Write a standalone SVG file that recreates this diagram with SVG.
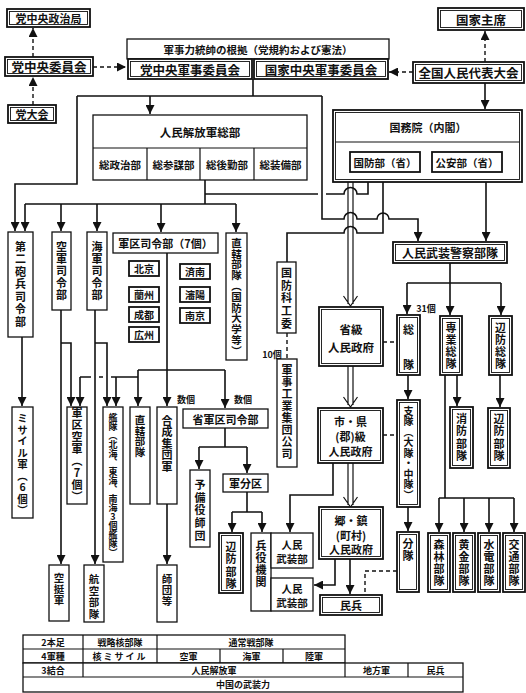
<svg xmlns="http://www.w3.org/2000/svg" width="526" height="693" viewBox="0 0 526 693">
<defs>
<style>
text{font-family:"Noto Sans CJK JP","Noto Sans CJK SC",sans-serif;font-weight:bold;fill:#111;text-anchor:middle;dominant-baseline:central;font-size:11px}
.v{writing-mode:vertical-rl;text-orientation:upright}
rect{fill:#fff;stroke:#111;stroke-width:1.3}
.o{stroke-width:1.8}
.i{stroke-width:0.9;fill:none}
.l{fill:none;stroke:#111;stroke-width:1.6}
.d{fill:none;stroke:#111;stroke-width:1.4;stroke-dasharray:4 3}
.h{fill:none;stroke:#111;stroke-width:1.2}
.a{marker-end:url(#ah)}
.sm{font-size:9px}
.tb{font-size:9px}
</style>
<marker id="ah" markerUnits="userSpaceOnUse" markerWidth="9" markerHeight="9" refX="9" refY="4.5" orient="auto"><path d="M0,0L9,4.5L0,9z" fill="#111"/></marker>
</defs>
<rect x="0" y="0" width="526" height="693" style="fill:#fff;stroke:none"/>

<g id="connectors">
<path class="d a" d="M33,105V77"/>
<path class="d a" d="M33,57V28"/>
<path class="d a" d="M93,67H126"/>
<path class="d a" d="M485,62V31"/>
<path class="d a" d="M413,72H389"/>
<path class="l a" d="M485,83V109"/>
<path class="l" d="M253,79V96M77,96H322"/>
<path class="l a" d="M150,96V114"/>
<path class="l a" d="M77,96V184H15V231"/>
<path class="l a" d="M322,96V219H344A6.5,6.5 0 0 1 357,219H377A6,6 0 0 1 389,219H418V241"/>
<path class="l" d="M205,180V204M25,204H236"/>
<path class="l a" d="M25,204V231"/>
<path class="l a" d="M61,204V231"/>
<path class="l a" d="M97,204V231"/>
<path class="l a" d="M161,204V232"/>
<path class="l a" d="M236,204V232"/>
<path class="l" d="M205,194H318M326,194H344A6.5,6.5 0 0 1 357,194H368V172"/>
<path class="l" d="M383,182V233H357A6.5,6.5 0 0 0 344,233H287V262"/>
<path class="h" d="M348,182V304M353,182V304M343.5,296L350.5,306L357.5,296"/>
<path class="h" d="M348,366V405M353,366V405M343.5,397L350.5,407L357.5,397"/>
<path class="h" d="M348,463V505M353,463V505M343.5,497L350.5,507L357.5,497"/>
<path class="l a" d="M486,182V241"/>
<path class="l" d="M450,263V283M407,283H501"/>
<path class="l a" d="M407,283V314"/>
<path class="l a" d="M450,283V315"/>
<path class="l a" d="M501,283V315"/>
<path class="d" d="M383,342H397M383,435H397"/>
<path class="l a" d="M408,375V399"/>
<path class="l a" d="M408,507V531"/>
<path class="l" d="M445,375V498M439,498H514"/>
<path class="l a" d="M439,498V532"/>
<path class="l a" d="M464,498V532"/>
<path class="l a" d="M489,498V532"/>
<path class="l a" d="M514,498V532"/>
<path class="l a" d="M457,375V406"/>
<path class="l a" d="M500,375V407"/>
<path class="l a" d="M333,463V495H290V532"/>
<path class="l a" d="M335,559V585H314"/>
<path class="l a" d="M350,559V594"/>
<path class="d" d="M397,571H365V595"/>
<path class="l a" d="M22,337V406"/>
<path class="l a" d="M61,310V564"/>
<path class="l a" d="M61,343H71V406"/>
<path class="l a" d="M95,310V564"/>
<path class="l a" d="M95,343H107V406"/>
<path class="l a" d="M167,253V406"/>
<path class="l" d="M138,370H225"/>
<path class="l a" d="M138,370V406"/>
<path class="l a" d="M225,370V408"/>
<path class="l" d="M138,377H111M103,377H99M91,377H80"/>
<path class="l a" d="M80,377V406"/>
<path class="l a" d="M116,377V406"/>
<path class="l a" d="M167,504V564"/>
<path class="l" d="M225,428V447M199,447H247"/>
<path class="l a" d="M199,447V469"/>
<path class="l a" d="M247,447V473"/>
<path class="l" d="M247,492V512M232,512H262"/>
<path class="l a" d="M232,512V532"/>
<path class="l a" d="M262,512V532"/>
<path class="d" d="M287,333V358"/>
</g>

<g id="n-politburo"><rect class="o" x="7" y="9" width="83" height="18"/><rect class="i" x="9.5" y="11.5" width="78" height="13"/><text x="48.5" y="18">党中央政治局</text></g>
<g id="n-cc"><rect class="o" x="5" y="57" width="88" height="19"/><rect class="i" x="7.5" y="59.5" width="83" height="14"/><text x="49" y="66.5" style="font-size:12.5px">党中央委員会</text></g>
<g id="n-congress"><rect class="o" x="8" y="105" width="48" height="18"/><rect class="i" x="10.5" y="107.5" width="43" height="13"/><text x="32" y="114">党大会</text></g>

<g id="n-basis"><rect x="127" y="39" width="262" height="20"/><text x="258" y="49" style="font-size:10.5px">軍事力統帥の根拠（党規約および憲法）</text></g>
<g id="n-cmc-party"><rect class="o" x="128" y="59" width="124" height="20"/><rect class="i" x="130.5" y="61.5" width="119" height="15"/><text x="190" y="69" style="font-size:12.5px">党中央軍事委員会</text></g>
<g id="n-cmc-state"><rect class="o" x="254" y="59" width="134" height="20"/><rect class="i" x="256.5" y="61.5" width="129" height="15"/><text x="321" y="69" style="font-size:12.5px">国家中央軍事委員会</text></g>

<g id="n-president"><rect class="o" x="438" y="8" width="86" height="22"/><rect class="i" x="440.5" y="10.5" width="81" height="17"/><text x="481" y="19" style="font-size:12.5px">国家主席</text></g>
<g id="n-npc"><rect class="o" x="413" y="62" width="111" height="21"/><rect class="i" x="415.5" y="64.5" width="106" height="16"/><text x="468.5" y="72.5" style="font-size:12.5px">全国人民代表大会</text></g>

<g id="n-pla-hq"><rect x="93" y="115" width="214" height="65"/><path class="h" d="M93,148H307M147,148V180M200,148V180M254,148V180"/><text x="200" y="132" style="font-size:11.5px">人民解放軍総部</text><text x="120" y="164" style="font-size:10.5px">総政治部</text><text x="173.5" y="164" style="font-size:10.5px">総参謀部</text><text x="227" y="164" style="font-size:10.5px">総後勤部</text><text x="280.5" y="164" style="font-size:10.5px">総装備部</text></g>

<g id="n-state-council"><rect class="o" x="333" y="110" width="189" height="72"/><rect class="i" x="335.5" y="112.5" width="184" height="67"/><path class="h" d="M335.5,142H519.5"/><text x="428" y="127">国務院（内閣）</text></g>
<g id="n-mnd"><rect class="o" x="350" y="152" width="70" height="20"/><text x="385" y="162" style="font-size:10.5px">国防部（省）</text></g>
<g id="n-mps"><rect class="o" x="432" y="152" width="70" height="20"/><text x="467" y="162" style="font-size:10.5px">公安部（省）</text></g>

<g id="n-2art"><rect x="8" y="232" width="25" height="105"/><text class="v" x="20.5" y="285" style="letter-spacing:1.5px">第二砲兵司令部</text></g>
<g id="n-af"><rect x="52" y="232" width="19" height="78"/><text class="v" x="61.5" y="271" style="letter-spacing:1px">空軍司令部</text></g>
<g id="n-navy"><rect x="87" y="232" width="20" height="78"/><text class="v" x="97" y="271" style="letter-spacing:1px">海軍司令部</text></g>
<g id="n-mr"><rect x="113" y="233" width="105" height="20"/><text x="165.5" y="243">軍区司令部（7個）</text>
<rect class="o" x="129" y="261" width="30" height="15"/><text x="144" y="268.5" style="font-size:10px">北京</text>
<rect class="o" x="129" y="287" width="30" height="15"/><text x="144" y="294.5" style="font-size:10px">蘭州</text>
<rect class="o" x="129" y="307" width="30" height="15"/><text x="144" y="314.5" style="font-size:10px">成都</text>
<rect class="o" x="129" y="327" width="30" height="15"/><text x="144" y="334.5" style="font-size:10px">広州</text>
<rect class="o" x="180" y="264" width="30" height="15"/><text x="195" y="271.5" style="font-size:10px">済南</text>
<rect class="o" x="180" y="287" width="30" height="15"/><text x="195" y="294.5" style="font-size:10px">瀋陽</text>
<rect class="o" x="180" y="308" width="30" height="15"/><text x="195" y="315.5" style="font-size:10px">南京</text></g>
<g id="n-direct1"><rect x="226" y="233" width="21" height="127"/><text class="v" x="236.5" y="297" style="font-size:10.5px;letter-spacing:0.3px">直轄部隊（国防大学等）</text></g>

<g id="n-missile"><rect x="12" y="407" width="21" height="111"/><text class="v" x="22.5" y="465" style="font-size:10.5px;letter-spacing:1px">ミサイル軍（6個）</text></g>
<g id="n-mraf"><rect x="67" y="407" width="20" height="97"/><text class="v" x="77" y="455" style="letter-spacing:1px">軍区空軍（7個）</text></g>
<g id="n-fleet"><rect x="103" y="407" width="20" height="155"/><text class="v" x="113" y="485" style="font-size:9px">艦隊（北海、東海、南海3個艦隊）</text></g>
<g id="n-direct2"><rect x="130" y="407" width="20" height="97"/><text class="v" x="140" y="436" style="font-size:10.5px">直轄部隊</text></g>
<g id="n-group-army"><rect x="157" y="407" width="20" height="97"/><text class="v" x="167" y="444" style="letter-spacing:0.6px">合成集団軍</text></g>
<g id="n-pmd"><rect x="183" y="409" width="85" height="19"/><text x="225.5" y="418.5">省軍区司令部</text></g>
<text class="sm" x="186" y="399">数個</text>
<text class="sm" x="243" y="399">数個</text>
<g id="n-reserve"><rect x="190" y="470" width="20" height="77"/><text class="v" x="200" y="511" style="letter-spacing:1.6px">予備役師団</text></g>
<g id="n-msd"><rect x="223" y="474" width="45" height="18"/><text x="245.5" y="483">軍分区</text></g>
<g id="n-border1"><rect class="o" x="219" y="533" width="24" height="60"/><rect class="i" x="221.5" y="535.5" width="19" height="55"/><text class="v" x="231" y="566" style="letter-spacing:1.5px">辺防部隊</text></g>
<g id="n-conscript"><rect x="251" y="533" width="20" height="78"/><text class="v" x="261" y="564" style="letter-spacing:1px">兵役機関</text></g>
<g id="n-armdep1"><rect x="271" y="533" width="42" height="35"/><text x="292" y="544" style="font-size:10.5px">人民</text><text x="292" y="558" style="font-size:10.5px">武装部</text></g>
<g id="n-armdep2"><rect x="271" y="578" width="42" height="33"/><text x="292" y="588" style="font-size:10.5px">人民</text><text x="292" y="602" style="font-size:10.5px">武装部</text></g>
<g id="n-airborne"><rect x="49" y="565" width="20" height="56"/><text class="v" x="59" y="589" style="font-size:10.5px;letter-spacing:0.5px">空挺軍</text></g>
<g id="n-navair"><rect x="84" y="565" width="20" height="57"/><text class="v" x="94" y="597" style="font-size:10.5px;letter-spacing:1.2px">航空部隊</text></g>
<g id="n-division"><rect x="157" y="565" width="20" height="57"/><text class="v" x="167" y="590" style="font-size:10.5px;letter-spacing:0.5px">師団等</text></g>

<g id="n-costind"><rect x="277" y="262" width="19" height="71"/><text class="v" x="286.5" y="299" style="letter-spacing:1.6px">国防科工委</text></g>
<text class="sm" x="272" y="354">10個</text>
<g id="n-defind"><rect x="277" y="359" width="20" height="108"/><text class="v" x="287" y="412" style="letter-spacing:1px">軍事工業集団公司</text></g>

<g id="n-pap"><rect class="o" x="393" y="242" width="114" height="21"/><rect class="i" x="395.5" y="244.5" width="109" height="16"/><text x="450" y="252.5" style="font-size:12px">人民武装警察部隊</text></g>
<text class="sm" x="426" y="308">31個</text>
<g id="n-corps"><rect class="o" x="397" y="315" width="23" height="60"/><rect class="i" x="399.5" y="317.5" width="18" height="55"/><text class="v" x="408.5" y="324" style="text-anchor:start;letter-spacing:24px">総隊</text></g>
<g id="n-special"><rect class="o" x="440" y="316" width="22" height="59"/><rect class="i" x="442.5" y="318.5" width="17" height="54"/><text class="v" x="451" y="346" style="letter-spacing:1px">専業総隊</text></g>
<g id="n-bordercorps"><rect class="o" x="489" y="316" width="23" height="59"/><rect class="i" x="491.5" y="318.5" width="18" height="54"/><text class="v" x="500.5" y="346" style="letter-spacing:1px">辺防総隊</text></g>
<g id="n-prov"><rect class="o" x="319" y="307" width="64" height="59"/><rect class="i" x="321.5" y="309.5" width="59" height="54"/><text x="351" y="329" style="font-size:11.5px">省級</text><text x="351" y="347" style="font-size:11.5px">人民政府</text></g>
<g id="n-city"><rect class="o" x="318" y="408" width="65" height="55"/><rect class="i" x="320.5" y="410.5" width="60" height="50"/><text x="350.5" y="421" style="font-size:11px">市・県</text><text x="350.5" y="436" style="font-size:11px">(郡)級</text><text x="350.5" y="451" style="font-size:11px">人民政府</text></g>
<g id="n-detach"><rect class="o" x="397" y="400" width="23" height="107"/><rect class="i" x="399.5" y="402.5" width="18" height="102"/><text class="v" x="408.5" y="453" style="font-size:10px;letter-spacing:0.5px">支隊（大隊・中隊）</text></g>
<g id="n-fire"><rect class="o" x="450" y="407" width="23" height="61"/><rect class="i" x="452.5" y="409.5" width="18" height="56"/><text class="v" x="461.5" y="438" style="letter-spacing:1.5px">消防部隊</text></g>
<g id="n-border2"><rect class="o" x="488" y="408" width="22" height="60"/><rect class="i" x="490.5" y="410.5" width="17" height="55"/><text class="v" x="499" y="438" style="letter-spacing:1.5px">辺防部隊</text></g>
<g id="n-town"><rect class="o" x="319" y="507" width="64" height="52"/><rect class="i" x="321.5" y="509.5" width="59" height="47"/><text x="351" y="520" style="font-size:11px">郷・鎮</text><text x="351" y="534.5" style="font-size:11px">(町村)</text><text x="351" y="549" style="font-size:11px">人民政府</text></g>
<g id="n-squad"><rect class="o" x="397" y="532" width="22" height="60"/><rect class="i" x="399.5" y="534.5" width="17" height="55"/><text class="v" x="408" y="538" style="text-anchor:start;letter-spacing:1px">分隊</text></g>
<g id="n-forest"><rect class="o" x="428" y="533" width="22" height="59"/><rect class="i" x="430.5" y="535.5" width="17" height="54"/><text class="v" x="439" y="563" style="letter-spacing:1px">森林部隊</text></g>
<g id="n-gold"><rect class="o" x="453" y="533" width="22" height="59"/><rect class="i" x="455.5" y="535.5" width="17" height="54"/><text class="v" x="464" y="563" style="letter-spacing:1px">黄金部隊</text></g>
<g id="n-hydro"><rect class="o" x="478" y="533" width="22" height="59"/><rect class="i" x="480.5" y="535.5" width="17" height="54"/><text class="v" x="489" y="563" style="letter-spacing:1px">水電部隊</text></g>
<g id="n-traffic"><rect class="o" x="503" y="533" width="22" height="59"/><rect class="i" x="505.5" y="535.5" width="17" height="54"/><text class="v" x="514" y="563" style="letter-spacing:1px">交通部隊</text></g>
<g id="n-militia"><rect class="o" x="320" y="595" width="62" height="20"/><rect class="i" x="322.5" y="597.5" width="57" height="15"/><text x="351" y="605">民兵</text></g>

<g id="table">
<rect x="23" y="635" width="322" height="28"/>
<rect x="23" y="663" width="440" height="29"/>
<path class="h" d="M23,649H345M23,677H463M83,635V677M157,635V663M220,649V663M283,649V663M345,663V677M408,663V677"/>
<text class="tb" x="53" y="642">2本足</text>
<text class="tb" x="120" y="642">戦略核部隊</text>
<text class="tb" x="251" y="642">通常戦部隊</text>
<text class="tb" x="53" y="656">4軍種</text>
<text class="tb" x="120" y="656" style="letter-spacing:2px">核ミサイル</text>
<text class="tb" x="188.5" y="656">空軍</text>
<text class="tb" x="251.5" y="656">海軍</text>
<text class="tb" x="314" y="656">陸軍</text>
<text class="tb" x="53" y="670">3結合</text>
<text class="tb" x="214" y="670">人民解放軍</text>
<text class="tb" x="376.5" y="670">地方軍</text>
<text class="tb" x="435.5" y="670">民兵</text>
<text class="tb" x="243" y="684.5">中国の武装力</text>
</g>
</svg>
